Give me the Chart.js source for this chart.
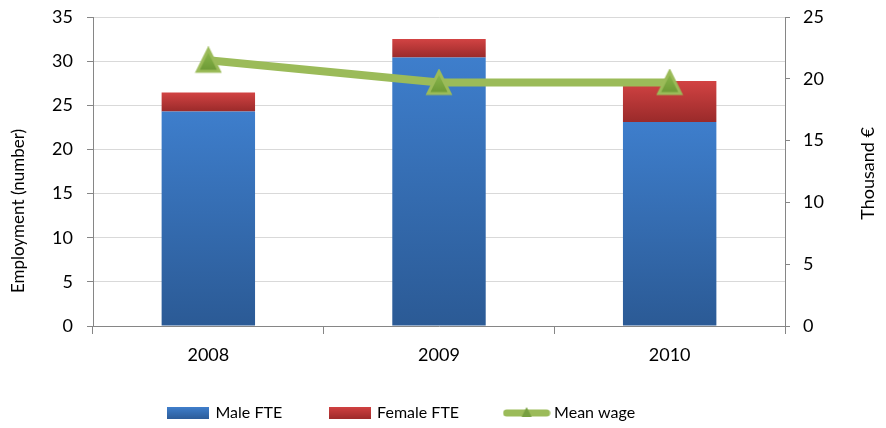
<!DOCTYPE html>
<html><head><meta charset="utf-8">
<script src="https://cdn.jsdelivr.net/npm/chart.js@4.4.0/dist/chart.umd.min.js"></script>
<style>html,body{margin:0;padding:0;background:#fff}</style>
</head><body>
<canvas id="c" width="886" height="428"></canvas>
<script>
const categories = ['2008', '2009', '2010'];
const maleFTE = [24.3, 30.4, 23.1];
const femaleFTE = [2.15, 2.1, 4.65];
const meanWage = [21.5, 19.7, 19.7];
const leftTicks = [0, 5, 10, 15, 20, 25, 30, 35];
const rightTicks = [0, 5, 10, 15, 20, 25];
const seriesNames = ['Male FTE', 'Female FTE', 'Mean wage'];
const leftTitle = 'Employment (number)';
const rightTitle = 'Thousand €';

const FONT = "Lato, 'Open Sans', sans-serif";

function barGrad(topC, botC, lowVals, highVals) {
  return function (c) {
    const chart = c.chart;
    const s = chart.scales && chart.scales.y;
    if (!s || c.type !== 'data' || !chart.chartArea) return topC;
    const i = c.dataIndex;
    const y0 = s.getPixelForValue(highVals(i));
    const y1 = s.getPixelForValue(lowVals(i));
    if (!isFinite(y0) || !isFinite(y1) || y1 - y0 < 1) return topC;
    const g = chart.ctx.createLinearGradient(0, y0, 0, y1);
    g.addColorStop(0, topC); g.addColorStop(1, botC); return g;
  };
}
function legendIcon(kind) {
  const cv = document.createElement('canvas');
  const w = kind === 'line' ? 48 : 42;
  cv.width = w; cv.height = 16;
  const x = cv.getContext('2d');
  if (kind === 'line') {
    x.strokeStyle = '#9BBB59'; x.lineWidth = 7; x.lineCap = 'round';
    x.beginPath(); x.moveTo(4, 8); x.lineTo(44, 8); x.stroke();
    x.fillStyle = '#77A040';
    x.beginPath(); x.moveTo(24, 2); x.lineTo(29, 12); x.lineTo(19, 12); x.closePath(); x.fill();
  } else {
    const g = x.createLinearGradient(0, 2, 0, 14);
    if (kind === 'male') { g.addColorStop(0, '#3F7ECB'); g.addColorStop(1, '#2C5C99'); }
    else { g.addColorStop(0, '#D04141'); g.addColorStop(1, '#9E2B2B'); }
    x.fillStyle = g; x.fillRect(0, 2, w, 12);
  }
  return cv;
}
const icons = [legendIcon('male'), legendIcon('female'), legendIcon('line')];

const triangle = (function () {
  const cv = document.createElement('canvas');
  cv.width = 28; cv.height = 28;
  const x = cv.getContext('2d');
  const g = x.createLinearGradient(0, 3, 0, 26);
  g.addColorStop(0, '#8DBA4E'); g.addColorStop(1, '#6B9734');
  x.fillStyle = g; x.strokeStyle = '#9BBB59'; x.lineWidth = 3; x.lineJoin = 'miter';
  x.beginPath(); x.moveTo(14, 3); x.lineTo(25, 25); x.lineTo(3, 25); x.closePath(); x.fill(); x.stroke();
  return cv;
})();

function drawVTitle(ctx, text, x, y, size) {
  ctx.save();
  ctx.translate(x, y);
  ctx.rotate(-Math.PI / 2);
  ctx.font = size + 'px ' + FONT;
  ctx.fillStyle = '#000';
  ctx.textAlign = 'center'; ctx.textBaseline = 'middle';
  ctx.fillText(text, 0, 0);
  ctx.restore();
}

const PLOT_TOP = 17;
const layoutFix = {
  id: 'layoutFix',
  afterLayout(chart) {
    const lg = chart.legend;
    if (lg) {
      const p = lg.options.labels.padding;
      lg.left = 168.5 - p;
      lg.top += 3; lg.bottom += 3;
    }
    if (chart.scales.x) chart.scales.x.bottom = chart.height;
    ['y', 'y1'].forEach(id => {
      const s = chart.scales[id];
      if (!s) return;
      s.top = PLOT_TOP; s.height = s.bottom - PLOT_TOP; s.configure();
    });
    const a = chart.chartArea;
    a.top = PLOT_TOP; a.height = a.bottom - PLOT_TOP;
  },
  afterDraw(chart) {
    const ctx = chart.ctx, a = chart.chartArea;
    drawVTitle(ctx, leftTitle, 19, 211, 17);
    drawVTitle(ctx, rightTitle, 868, (a.top + a.bottom) / 2 + 2, 18);
  }
};

new Chart(document.getElementById('c'), {
  data: {
    labels: categories,
    datasets: [
      { type: 'bar', label: seriesNames[0], data: maleFTE, yAxisID: 'y', order: 1,
        backgroundColor: barGrad('#3E7ECC', '#2B5A95', i => 0, i => maleFTE[i]),
        barPercentage: 0.81, categoryPercentage: 0.5 },
      { type: 'bar', label: seriesNames[1], data: femaleFTE, yAxisID: 'y', order: 2,
        backgroundColor: barGrad('#D24343', '#9A2A2A', i => maleFTE[i], i => maleFTE[i] + femaleFTE[i]),
        barPercentage: 0.81, categoryPercentage: 0.5 },
      { type: 'line', label: seriesNames[2], data: meanWage, yAxisID: 'y1', order: 0,
        borderColor: '#9BBB59', borderWidth: 8, pointStyle: triangle, pointRadius: 14,
        backgroundColor: '#9BBB59', tension: 0, borderJoinStyle: 'round', borderCapStyle: 'butt' }
    ]
  },
  plugins: [layoutFix],
  options: {
    responsive: false, animation: false,
    layout: { padding: { left: 0, right: 0, top: 12, bottom: 0 } },
    plugins: {
      tooltip: { enabled: false },
      legend: {
        position: 'bottom', align: 'start',
        labels: {
          font: { family: FONT, size: 16 }, color: '#000',
          usePointStyle: true, pointStyleWidth: 39, padding: 48,
          generateLabels: function (chart) {
            return chart.data.datasets.map((d, i) => ({
              text: d.label, pointStyle: icons[i], datasetIndex: i,
              fillStyle: 'transparent', strokeStyle: 'transparent', lineWidth: 0
            }));
          }
        }
      }
    },
    scales: {
      x: {
        stacked: true,
        afterFit: s => { s.height = 28; },
        grid: { offset: true, drawOnChartArea: false, color: '#868686', tickLength: 8 },
        border: { color: '#868686', width: 1 },
        ticks: { font: { family: FONT, size: 18 }, color: '#000', padding: 10, maxRotation: 0 }
      },
      y: {
        stacked: true, position: 'left', min: 0, max: 35,
        afterFit: s => { s.width = 93; s.paddingTop = 0; s.paddingBottom = 0; },
        afterBuildTicks: s => { s.ticks = leftTicks.map(v => ({ value: v })); },
        grid: { color: '#D9D9D9', tickColor: '#868686', tickLength: 6 },
        border: { color: '#868686' },
        ticks: { font: { family: FONT, size: 18 }, color: '#000', padding: 14 }
      },
      y1: {
        position: 'right', min: 0, max: 25,
        afterFit: s => { s.width = 101; s.paddingTop = 0; s.paddingBottom = 0; },
        afterBuildTicks: s => { s.ticks = rightTicks.map(v => ({ value: v })); },
        grid: { drawOnChartArea: false, color: '#868686', tickLength: 5 },
        border: { color: '#868686' },
        ticks: { font: { family: FONT, size: 18 }, color: '#000', padding: 13 }
      }
    }
  }
});
</script>
</body></html>
